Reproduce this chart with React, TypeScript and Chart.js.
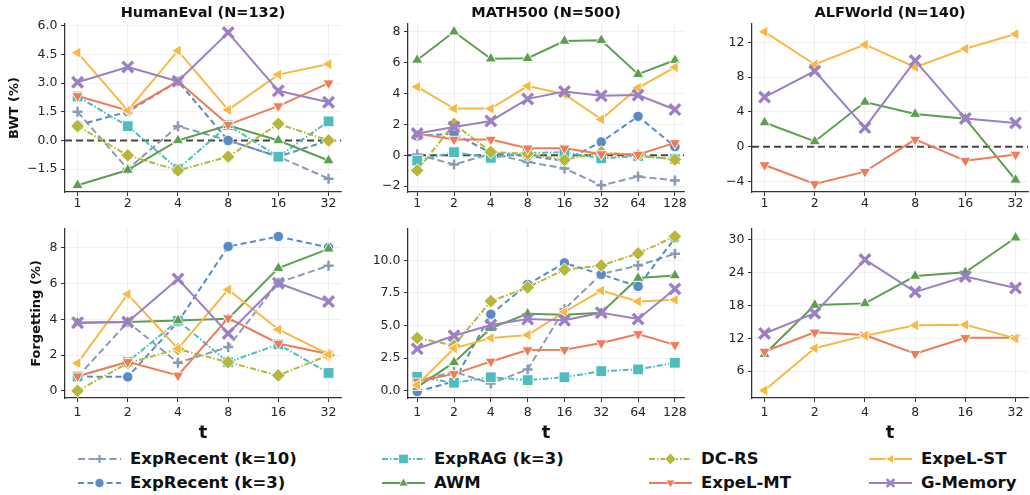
import React, { useEffect, useRef } from 'react';
import { Chart, registerables } from 'chart.js';

Chart.register(...registerables);

const FONT = "'DejaVu Sans', sans-serif";

// ---------- tick labels ----------
const tLabels6 = ['1', '2', '4', '8', '16', '32'];
const tLabels8 = ['1', '2', '4', '8', '16', '32', '64', '128'];

const heBwtTicks = [-1.5, 0, 1.5, 3, 4.5, 6];
const mBwtTicks = [-2, 0, 2, 4, 6, 8];
const alfBwtTicks = [-4, 0, 4, 8, 12];
const heForgTicks = [0, 2, 4, 6, 8];
const mForgTicks = [0, 2.5, 5, 7.5, 10];
const alfForgTicks = [6, 12, 18, 24, 30];

// ---------- series names ----------
const seriesNames = ['ExpRecent (k=10)', 'ExpRecent (k=3)', 'ExpRAG (k=3)', 'AWM', 'DC-RS', 'ExpeL-MT', 'ExpeL-ST', 'G-Memory'];

// ---------- HumanEval BWT ----------
const heBwtRecent10 = [1.5, -1.5, 0.75, 0.0, -0.85, -2.0];
const heBwtRecent3 = [0.8, 1.5, 3.1, 0.0, -0.85, 0.0];
const heBwtRag = [2.3, 0.75, -1.5, 0.8, -0.85, 1.0];
const heBwtAwm = [-2.35, -1.55, 0.0, 0.8, 0.0, -1.05];
const heBwtDcrs = [0.75, -0.78, -1.57, -0.85, 0.87, 0.0];
const heBwtMt = [2.33, 1.57, 3.1, 0.83, 1.8, 3.0];
const heBwtSt = [4.6, 1.57, 4.7, 1.6, 3.45, 4.0];
const heBwtGm = [3.05, 3.85, 3.1, 5.65, 2.6, 2.0];

// ---------- MATH500 BWT ----------
const mBwtRecent10 = [0.05, -0.6, 0.1, -0.43, -0.85, -1.95, -1.38, -1.63];
const mBwtRecent3 = [1.25, 1.4, 0.15, -0.05, -0.35, 0.86, 2.52, 0.56];
const mBwtRag = [-0.35, 0.2, -0.17, 0.15, 0.2, -0.2, -0.05, -0.25];
const mBwtAwm = [6.17, 8.0, 6.25, 6.28, 7.4, 7.45, 5.25, 6.15];
const mBwtDcrs = [-0.98, 2.03, 0.21, 0.1, -0.3, 0.2, 0.0, -0.28];
const mBwtMt = [1.4, 1.02, 1.02, 0.45, 0.45, 0.08, 0.05, 0.8];
const mBwtSt = [4.43, 3.02, 3.02, 4.48, 3.95, 2.33, 4.37, 5.69];
const mBwtGm = [1.41, 1.83, 2.22, 3.65, 4.13, 3.85, 3.9, 2.96];

// ---------- ALFWorld BWT ----------
const alfBwtAwm = [2.78, 0.61, 5.14, 3.75, 3.22, -3.81];
const alfBwtMt = [-2.1, -4.27, -2.86, 0.84, -1.6, -0.88];
const alfBwtSt = [13.2, 9.45, 11.73, 9.14, 11.26, 12.95];
const alfBwtGm = [5.71, 8.69, 2.2, 9.9, 3.24, 2.74];

// ---------- HumanEval Forgetting ----------
const heForgRecent10 = [0.78, 3.85, 1.57, 2.45, 6.05, 7.0];
const heForgRecent3 = [0.8, 0.78, 3.85, 8.07, 8.63, 8.02];
const heForgRag = [0.8, 1.62, 3.92, 1.6, 2.6, 1.0];
const heForgAwm = [3.81, 3.85, 3.93, 4.03, 6.86, 7.94];
const heForgDcrs = [0.0, 1.55, 2.33, 1.6, 0.86, 2.0];
const heForgMt = [0.82, 1.62, 0.86, 4.07, 2.65, 2.06];
const heForgSt = [1.55, 5.4, 2.36, 5.66, 3.43, 2.04];
const heForgGm = [3.81, 3.85, 6.26, 3.21, 6.02, 4.99];

// ---------- MATH500 Forgetting ----------
const mForgRecent10 = [0.75, 1.46, 0.56, 1.64, 6.26, 8.95, 9.6, 10.5];
const mForgRecent3 = [-0.06, 0.72, 5.87, 8.15, 9.8, 8.92, 8.0, 11.7];
const mForgRag = [1.08, 0.62, 1.04, 0.82, 1.04, 1.51, 1.64, 2.15];
const mForgAwm = [0.28, 2.18, 4.8, 5.9, 5.82, 5.98, 8.64, 8.84];
const mForgDcrs = [4.05, 3.47, 6.87, 7.92, 9.28, 9.6, 10.53, 11.83];
const mForgMt = [0.72, 1.3, 2.25, 3.12, 3.15, 3.66, 4.36, 3.52];
const mForgSt = [0.44, 3.26, 4.05, 4.28, 6.04, 7.68, 6.85, 6.97];
const mForgGm = [3.22, 4.22, 5.05, 5.5, 5.4, 5.99, 5.5, 7.81];

// ---------- ALFWorld Forgetting ----------
const alfForgAwm = [9.1, 18.1, 18.4, 23.4, 24.1, 30.4];
const alfForgMt = [9.6, 13.1, 12.6, 9.2, 12.1, 12.1];
const alfForgSt = [2.5, 10.2, 12.5, 14.4, 14.5, 12.0];
const alfForgGm = [12.9, 16.6, 26.4, 20.5, 23.3, 21.2];

// ---------- styles ----------
type SeriesStyle = {
  color: string;
  dash: number[];
  point: string;
  rot: number;
  radius: number;
  bw: number;
  marker: string;
  stroke: boolean;
};

const STYLES: Record<string, SeriesStyle> = {
  'ExpRecent (k=10)': { color: '#8B9BB4', dash: [7, 3.5], point: 'cross', rot: 0, radius: 5, bw: 2.5, marker: 'plus', stroke: true },
  'ExpRecent (k=3)': { color: '#5A8BC5', dash: [6, 3.5], point: 'circle', rot: 0, radius: 5.2, bw: 1, marker: 'circle', stroke: false },
  'ExpRAG (k=3)': { color: '#4FBDBD', dash: [6, 2, 1.5, 2], point: 'rect', rot: 0, radius: 7.6, bw: 1, marker: 'square', stroke: false },
  'AWM': { color: '#5E9E50', dash: [], point: 'triangle', rot: 0, radius: 6.5, bw: 1, marker: 'up', stroke: false },
  'DC-RS': { color: '#B5B83A', dash: [6, 2, 1.5, 2], point: 'rectRot', rot: 0, radius: 6.8, bw: 1, marker: 'diamond', stroke: false },
  'ExpeL-MT': { color: '#EE7C57', dash: [], point: 'triangle', rot: 180, radius: 6.5, bw: 1, marker: 'down', stroke: false },
  'ExpeL-ST': { color: '#F7B944', dash: [], point: 'triangle', rot: -90, radius: 6.5, bw: 1, marker: 'left', stroke: false },
  'G-Memory': { color: '#9B80C4', dash: [], point: 'crossRot', rot: 0, radius: 7.5, bw: 3.4, marker: 'x', stroke: true },
};

type PanelCfg = {
  key: string;
  title?: string;
  yTitle?: string;
  yTitlePad?: number;
  xTitle?: string;
  labels: string[];
  series: [string, number[]][];
  yMin: number;
  yMax: number;
  yTicks: number[];
  decimals: number;
  zero: boolean;
  left: number;
  top: number;
  width: number;
  height: number;
  yW: number;
  xH: number;
  xPad: number;
  padTop: number;
};

const PANELS: PanelCfg[] = [
  {
    key: 'heBwt', title: 'HumanEval (N=132)', yTitle: 'BWT (%)', yTitlePad: 7.2, labels: tLabels6,
    series: [
      [seriesNames[0], heBwtRecent10], [seriesNames[1], heBwtRecent3], [seriesNames[2], heBwtRag], [seriesNames[3], heBwtAwm],
      [seriesNames[4], heBwtDcrs], [seriesNames[5], heBwtMt], [seriesNames[6], heBwtSt], [seriesNames[7], heBwtGm],
    ],
    yMin: -2.7, yMax: 6.1, yTicks: heBwtTicks, decimals: 1, zero: true,
    left: 0, top: 0, width: 352, height: 215, yW: 65, xH: 23, xPad: 0, padTop: 0,
  },
  {
    key: 'mBwt', title: 'MATH500 (N=500)', labels: tLabels8,
    series: [
      [seriesNames[0], mBwtRecent10], [seriesNames[1], mBwtRecent3], [seriesNames[2], mBwtRag], [seriesNames[3], mBwtAwm],
      [seriesNames[4], mBwtDcrs], [seriesNames[5], mBwtMt], [seriesNames[6], mBwtSt], [seriesNames[7], mBwtGm],
    ],
    yMin: -2.38, yMax: 8.5, yTicks: mBwtTicks, decimals: 0, zero: true,
    left: 350, top: 0, width: 345, height: 215, yW: 58, xH: 23, xPad: 0, padTop: 0,
  },
  {
    key: 'alfBwt', title: 'ALFWorld (N=140)', labels: tLabels6,
    series: [
      [seriesNames[3], alfBwtAwm], [seriesNames[5], alfBwtMt], [seriesNames[6], alfBwtSt], [seriesNames[7], alfBwtGm],
    ],
    yMin: -5.2, yMax: 14.1, yTicks: alfBwtTicks, decimals: 0, zero: true,
    left: 700, top: 0, width: 339, height: 215, yW: 52, xH: 23, xPad: 0, padTop: 0,
  },
  {
    key: 'heForg', yTitle: 'Forgetting (%)', yTitlePad: 29.2, xTitle: 't', labels: tLabels6,
    series: [
      [seriesNames[0], heForgRecent10], [seriesNames[1], heForgRecent3], [seriesNames[2], heForgRag], [seriesNames[3], heForgAwm],
      [seriesNames[4], heForgDcrs], [seriesNames[5], heForgMt], [seriesNames[6], heForgSt], [seriesNames[7], heForgGm],
    ],
    yMin: -0.4, yMax: 9.05, yTicks: heForgTicks, decimals: 0, zero: false,
    left: 0, top: 215, width: 352, height: 233, yW: 65, xH: 50, xPad: 3, padTop: 14,
  },
  {
    key: 'mForg', xTitle: 't', labels: tLabels8,
    series: [
      [seriesNames[0], mForgRecent10], [seriesNames[1], mForgRecent3], [seriesNames[2], mForgRag], [seriesNames[3], mForgAwm],
      [seriesNames[4], mForgDcrs], [seriesNames[5], mForgMt], [seriesNames[6], mForgSt], [seriesNames[7], mForgGm],
    ],
    yMin: -0.55, yMax: 12.4, yTicks: mForgTicks, decimals: 1, zero: false,
    left: 350, top: 215, width: 345, height: 233, yW: 58, xH: 50, xPad: 3, padTop: 14,
  },
  {
    key: 'alfForg', xTitle: 't', labels: tLabels6,
    series: [
      [seriesNames[3], alfForgAwm], [seriesNames[5], alfForgMt], [seriesNames[6], alfForgSt], [seriesNames[7], alfForgGm],
    ],
    yMin: 1.1, yMax: 32.0, yTicks: alfForgTicks, decimals: 0, zero: false,
    left: 700, top: 215, width: 339, height: 233, yW: 52, xH: 50, xPad: 3, padTop: 14,
  },
];

const zeroLinePlugin = {
  id: 'zeroLine',
  beforeDatasetsDraw(chart: any, _args: any, opts: any) {
    if (!opts || !opts.show) return;
    const { ctx, chartArea } = chart;
    const y = chart.scales.y.getPixelForValue(0);
    ctx.save();
    ctx.beginPath();
    ctx.setLineDash([7, 4]);
    ctx.strokeStyle = 'rgba(25,25,25,0.8)';
    ctx.lineWidth = 2;
    ctx.moveTo(chartArea.left, y);
    ctx.lineTo(chartArea.right, y);
    ctx.stroke();
    ctx.restore();
  },
};

function fmt(v: number, d: number) {
  return v.toFixed(d).replace('-', '\u2212');
}

function Panel({ p }: { p: PanelCfg }) {
  const ref = useRef<HTMLCanvasElement | null>(null);
  useEffect(() => {
    if (!ref.current) return;
    const n = p.series.length;
    const datasets = p.series.map(([name, vals], i) => {
      const s = STYLES[name];
      return {
        label: name,
        data: vals.map((v, j) => ({ x: j, y: v })),
        borderColor: s.color,
        borderWidth: 2,
        borderDash: s.dash,
        pointStyle: s.point,
        pointRotation: s.rot,
        pointRadius: s.radius,
        pointBackgroundColor: s.color,
        pointBorderColor: s.stroke ? s.color : 'rgba(255,255,255,0.9)',
        pointBorderWidth: s.bw,
        tension: 0,
        fill: false,
        order: n - i,
      };
    });
    const chart = new Chart(ref.current, {
      type: 'line',
      data: { datasets },
      plugins: [zeroLinePlugin],
      options: {
        responsive: false,
        animation: false,
        devicePixelRatio: 1,
        layout: { padding: { left: 0, right: 5, top: p.padTop, bottom: 0 } },
        plugins: {
          legend: { display: false },
          tooltip: { enabled: false },
          title: p.title
            ? {
                display: true,
                text: p.title,
                fullSize: false,
                color: '#111',
                font: { family: FONT, size: 14.5, weight: 'bold' },
                padding: { top: 4.3, bottom: 2.3 },
              }
            : { display: false },
          zeroLine: { show: p.zero },
        } as any,
        scales: {
          x: {
            type: 'linear',
            min: -0.25,
            max: p.labels.length - 0.75,
            afterBuildTicks: (ax: any) => {
              ax.ticks = p.labels.map((_, i) => ({ value: i }));
            },
            afterFit: (ax: any) => {
              ax.height = p.xH;
            },
            ticks: {
              autoSkip: false,
              maxRotation: 0,
              padding: p.xPad,
              color: '#262626',
              font: { family: FONT, size: 12.5 },
              callback: (v: any) => p.labels[Math.round(Number(v))],
            },
            grid: { color: 'rgba(0,0,0,0.08)', lineWidth: 0.8, tickColor: '#333', tickLength: 4, tickWidth: 1 },
            border: { display: true, color: '#333', width: 1.25 },
            title: p.xTitle
              ? { display: true, text: p.xTitle, color: '#111', font: { family: FONT, size: 18, weight: 'bold' }, padding: { top: 0, bottom: 4.2 } }
              : { display: false },
          },
          y: {
            type: 'linear',
            min: p.yMin,
            max: p.yMax,
            afterBuildTicks: (ax: any) => {
              ax.ticks = p.yTicks.map((v) => ({ value: v }));
            },
            afterFit: (ax: any) => {
              ax.width = p.yW;
            },
            ticks: {
              padding: 3.5,
              color: '#262626',
              font: { family: FONT, size: 12.5 },
              callback: (v: any) => fmt(Number(v), p.decimals),
            },
            grid: { color: 'rgba(0,0,0,0.08)', lineWidth: 0.8, tickColor: '#333', tickLength: 4, tickWidth: 1 },
            border: { display: true, color: '#333', width: 1.25 },
            title: p.yTitle
              ? { display: true, text: p.yTitle, color: '#111', font: { family: FONT, size: 13, weight: 'bold' }, padding: { top: p.yTitlePad || 0, bottom: 0 } }
              : { display: false },
          },
        },
      } as any,
    });
    return () => chart.destroy();
  }, []);
  return (
    <div style={{ position: 'absolute', left: p.left, top: p.top, width: p.width, height: p.height }}>
      <canvas ref={ref} width={p.width} height={p.height} style={{ display: 'block' }} />
    </div>
  );
}

function LegendMarker({ s }: { s: SeriesStyle }) {
  const c = s.color;
  const cx = 21.5;
  const cy = 9;
  switch (s.marker) {
    case 'plus':
      return (
        <g stroke={c} strokeWidth={2.2}>
          <line x1={cx - 4} y1={cy} x2={cx + 4} y2={cy} />
          <line x1={cx} y1={cy - 4} x2={cx} y2={cy + 4} />
        </g>
      );
    case 'circle':
      return <circle cx={cx} cy={cy} r={4.6} fill={c} stroke="#fff" strokeWidth={0.8} />;
    case 'square':
      return <rect x={cx - 4.8} y={cy - 4.8} width={9.6} height={9.6} fill={c} stroke="#fff" strokeWidth={0.8} />;
    case 'diamond':
      return <polygon points={`${cx},${cy - 6} ${cx + 5.5},${cy} ${cx},${cy + 6} ${cx - 5.5},${cy}`} fill={c} stroke="#fff" strokeWidth={0.8} />;
    case 'up':
      return <polygon points={`${cx},${cy - 5} ${cx + 4.6},${cy + 3} ${cx - 4.6},${cy + 3}`} fill={c} stroke="#fff" strokeWidth={0.8} />;
    case 'down':
      return <polygon points={`${cx},${cy + 5} ${cx + 4.6},${cy - 3} ${cx - 4.6},${cy - 3}`} fill={c} stroke="#fff" strokeWidth={0.8} />;
    case 'left':
      return <polygon points={`${cx - 5},${cy} ${cx + 3},${cy - 4.6} ${cx + 3},${cy + 4.6}`} fill={c} stroke="#fff" strokeWidth={0.8} />;
    case 'x':
      return (
        <g stroke={c} strokeWidth={2.6}>
          <line x1={cx - 3.8} y1={cy - 3.8} x2={cx + 3.8} y2={cy + 3.8} />
          <line x1={cx - 3.8} y1={cy + 3.8} x2={cx + 3.8} y2={cy - 3.8} />
        </g>
      );
    default:
      return null;
  }
}

const LEGEND_COLS = [78, 382, 649, 869];
const LEGEND_ROWS = [459, 483];

function Legend() {
  return (
    <>
      {seriesNames.map((name, i) => {
        const s = STYLES[name];
        const col = Math.floor(i / 2);
        const row = i % 2;
        const x = LEGEND_COLS[col];
        const y = LEGEND_ROWS[row];
        return (
          <div key={name} style={{ position: 'absolute', left: x, top: y - 10, height: 20, display: 'flex', alignItems: 'center', whiteSpace: 'nowrap' }}>
            <svg width={43} height={18} style={{ display: 'block' }}>
              <line x1={0} y1={9} x2={43} y2={9} stroke={s.color} strokeWidth={2} strokeDasharray={s.dash.length ? s.dash.join(' ') : undefined} />
              <LegendMarker s={s} />
            </svg>
            <span style={{ marginLeft: 9, fontFamily: FONT, fontWeight: 'bold', fontSize: 16.5, color: '#111', lineHeight: '20px' }}>{name}</span>
          </div>
        );
      })}
    </>
  );
}

export default function App() {
  return (
    <div style={{ position: 'absolute', left: 0, top: 0, width: 1030, height: 495, overflow: 'hidden', background: '#fff' }}>
      {PANELS.map((p) => (
        <Panel key={p.key} p={p} />
      ))}
      <Legend />
    </div>
  );
}
